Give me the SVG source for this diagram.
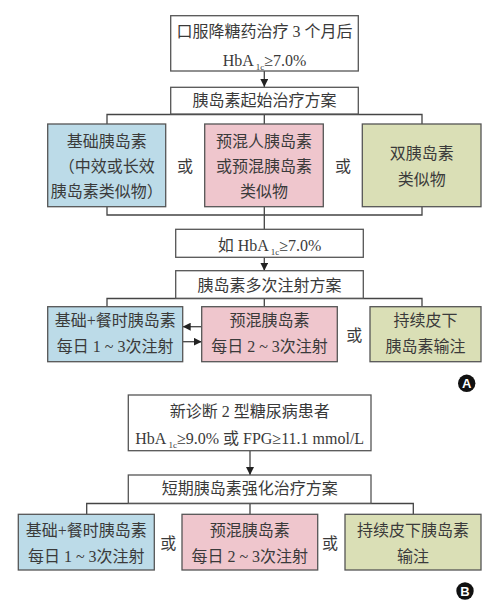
<svg xmlns="http://www.w3.org/2000/svg" width="500" height="607" viewBox="0 0 500 607">
<defs>
<marker id="ah" viewBox="0 0 10 10" refX="10" refY="5" markerWidth="8" markerHeight="8" markerUnits="userSpaceOnUse" orient="auto">
<path d="M0,0 L10,5 L0,10 Z" fill="#222"/>
</marker>
</defs>
<style>
.b{stroke:#555;stroke-width:1.3}
.w{fill:#fff}
.blue{fill:#bcdbe8}
.pink{fill:#efc6cd}
.green{fill:#dadfb6}
.t{font-family:"Liberation Serif","Noto Sans CJK SC",serif;font-size:16px;fill:#3a3a3a;text-anchor:middle}
.s{font-size:9px}
.c{fill:none;stroke:#444;stroke-width:1.3}
.lbl{font-family:"Liberation Sans","DejaVu Sans",sans-serif;font-size:13px;font-weight:bold;fill:#fff;text-anchor:middle}
</style>
<rect width="500" height="607" fill="#fff"/>
<g id="connectors">
<path class="c" d="M264.3,71 V87" marker-end="url(#ah)"/>
<path class="c" d="M264.3,114 V124 M107,124 V114.5 H422 V124"/>
<path class="c" d="M107,206.7 V215 H422 V206.7 M264.3,206.7 V229.3"/>
<path class="c" d="M264.3,257.3 V270.7" marker-end="url(#ah)"/>
<path class="c" d="M107,306.7 V298.5 H422 V306.7 M264.3,298.5 V306.7"/>
<path class="c" d="M201.7,326.7 H182.7" marker-end="url(#ah)"/>
<path class="c" d="M182.7,341.7 H201.7" marker-end="url(#ah)"/>
<path class="c" d="M250,450.7 V475" marker-end="url(#ah)"/>
<path class="c" d="M86.7,514.3 V503.5 H413.3 V514.3 M250,503.5 V514.3"/>
</g>
<g id="n1"><rect class="b w" x="170.7" y="15.7" width="187.6" height="55.3"/>
<text class="t" x="264.5" y="37">口服降糖药治疗 3 个月后</text>
<text class="t" x="264.5" y="65.5">HbA<tspan class="s" dx="2" dy="4">1c</tspan><tspan dy="-4">≥7.0%</tspan></text></g>
<g id="n2"><rect class="b w" x="170.7" y="87.3" width="187.6" height="26.7"/>
<text class="t" x="264.5" y="106">胰岛素起始治疗方案</text></g>
<g id="n3"><rect class="b blue" x="47.7" y="124" width="118" height="82.7"/>
<text class="t" x="106.7" y="147">基础胰岛素</text>
<text class="t" x="106.7" y="172">（中效或长效</text>
<text class="t" x="106.7" y="197">胰岛素类似物）</text></g>
<text class="t" x="185" y="172">或</text>
<g id="n4"><rect class="b pink" x="204.7" y="124" width="118.6" height="82.7"/>
<text class="t" x="264" y="147">预混人胰岛素</text>
<text class="t" x="264" y="172">或预混胰岛素</text>
<text class="t" x="264" y="197">类似物</text></g>
<text class="t" x="343" y="172">或</text>
<g id="n5"><rect class="b green" x="362.3" y="124" width="118.7" height="82.7"/>
<text class="t" x="421.7" y="159">双胰岛素</text>
<text class="t" x="421.7" y="185">类似物</text></g>
<g id="n6"><rect class="b w" x="175.7" y="229.3" width="187.6" height="28"/>
<text class="t" x="269.5" y="250.5">如 HbA<tspan class="s" dx="2" dy="4">1c</tspan><tspan dy="-4">≥7.0%</tspan></text></g>
<g id="n7"><rect class="b w" x="175.7" y="270.7" width="187.6" height="27.6"/>
<text class="t" x="269.5" y="290.5">胰岛素多次注射方案</text></g>
<g id="n8"><rect class="b blue" x="47.7" y="306.7" width="135" height="55"/>
<text class="t" x="115.2" y="325.5">基础+餐时胰岛素</text>
<text class="t" x="115.2" y="352">每日 1 ~ 3次注射</text></g>
<g id="n9"><rect class="b pink" x="201.7" y="306.7" width="135.6" height="55"/>
<text class="t" x="269.5" y="325.5">预混胰岛素</text>
<text class="t" x="269.5" y="352">每日 2 ~ 3次注射</text></g>
<text class="t" x="354.3" y="340.5">或</text>
<g id="n10"><rect class="b green" x="370" y="306.7" width="111" height="55"/>
<text class="t" x="425.5" y="325.5">持续皮下</text>
<text class="t" x="425.5" y="352">胰岛素输注</text></g>
<g id="labelA"><circle cx="466.7" cy="383.3" r="8.7" fill="#111"/><text class="lbl" x="466.7" y="388">A</text></g>
<g id="n11"><rect class="b w" x="128.3" y="395" width="242.7" height="55.7"/>
<text class="t" x="249.7" y="417">新诊断 2 型糖尿病患者</text>
<text class="t" x="249.7" y="444">HbA<tspan class="s" dx="2" dy="4">1c</tspan><tspan dy="-4">≥9.0% 或 FPG≥11.1 mmol/L</tspan></text></g>
<g id="n12"><rect class="b w" x="128.3" y="475" width="242.7" height="28.3"/>
<text class="t" x="249.7" y="494">短期胰岛素强化治疗方案</text></g>
<g id="n13"><rect class="b blue" x="18.3" y="514.3" width="136" height="55.7"/>
<text class="t" x="86.3" y="535.5">基础+餐时胰岛素</text>
<text class="t" x="86.3" y="562">每日 1 ~ 3次注射</text></g>
<text class="t" x="168.3" y="549">或</text>
<g id="n14"><rect class="b pink" x="182" y="514.3" width="135.7" height="55.7"/>
<text class="t" x="249.8" y="535.5">预混胰岛素</text>
<text class="t" x="249.8" y="562">每日 2 ~ 3次注射</text></g>
<text class="t" x="330" y="549">或</text>
<g id="n15"><rect class="b green" x="345" y="514.3" width="136" height="55.7"/>
<text class="t" x="413" y="535.5">持续皮下胰岛素</text>
<text class="t" x="413" y="562">输注</text></g>
<g id="labelB"><circle cx="465" cy="591" r="8.7" fill="#111"/><text class="lbl" x="465" y="595.7">B</text></g>
</svg>
